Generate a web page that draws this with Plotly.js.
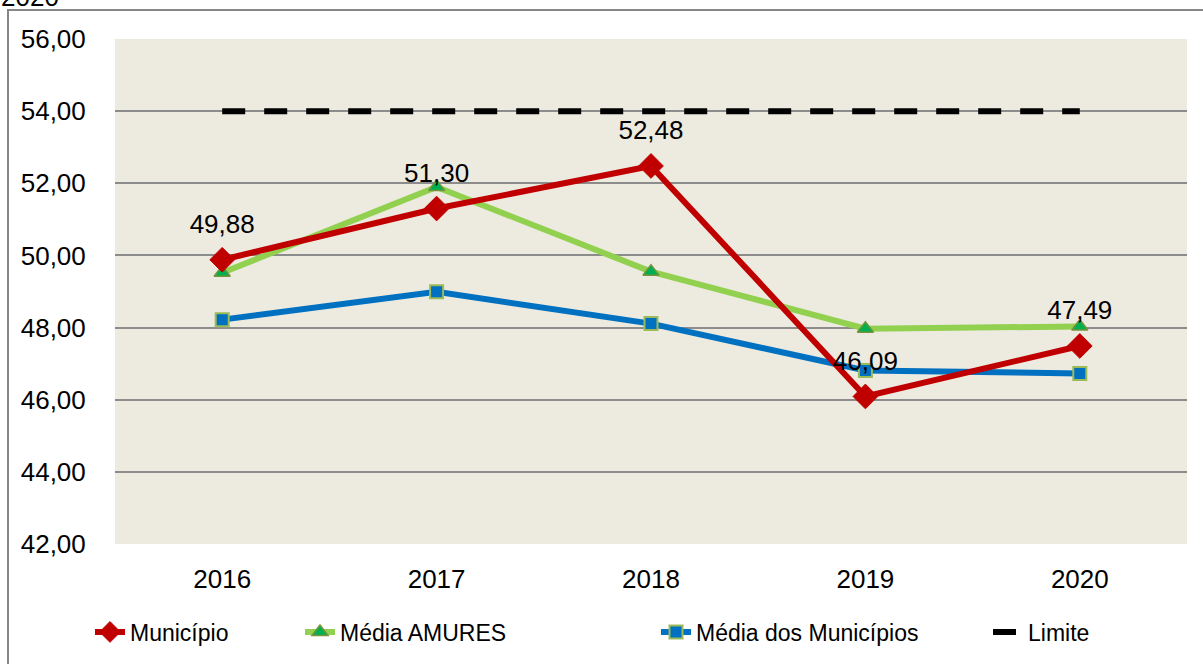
<!DOCTYPE html>
<html>
<head>
<meta charset="utf-8">
<script src="https://cdn.plot.ly/plotly-3.0.1.min.js"></script>
<style>html,body{margin:0;padding:0;background:#fff;}#chart{width:1203px;height:664px;}</style>
</head>
<body>
<div id="chart"></div>
<script>
var years = ['2016', '2017', '2018', '2019', '2020'];
var municipio = [49.88, 51.30, 52.48, 46.09, 47.49];
var mediaAmures = [49.52, 51.90, 49.55, 47.97, 48.03];
var mediaMunicipios = [48.22, 48.99, 48.11, 46.81, 46.73];
var limite = [54, 54, 54, 54, 54];
var yTicks = [42, 44, 46, 48, 50, 52, 54, 56];

var F = 'Liberation Sans, Arial, sans-serif';

var traces = [
  {
    x: years, y: limite, name: 'Limite', type: 'scatter', mode: 'lines',
    line: {color: '#000000', width: 6, dash: '23px,19px'},
    legend: 'legend4'
  },
  {
    x: years, y: mediaMunicipios, name: 'Média dos Municípios', type: 'scatter', mode: 'lines+markers',
    line: {color: '#0070C0', width: 6},
    marker: {symbol: 'square', size: 13, color: '#0070C0', line: {color: '#9BBB59', width: 2}},
    legend: 'legend3', cliponaxis: false
  },
  {
    x: years, y: mediaAmures, name: 'Média AMURES', type: 'scatter', mode: 'lines+markers',
    line: {color: '#92D050', width: 6},
    marker: {symbol: 'triangle-up', size: 14, color: '#00B050', line: {color: '#77933C', width: 1.5}},
    legend: 'legend2', cliponaxis: false
  },
  {
    x: years, y: municipio, name: 'Município', type: 'scatter', mode: 'lines+markers',
    line: {color: '#C00000', width: 6},
    marker: {symbol: 'diamond', size: 19, color: '#C00000', line: {color: '#C00000', width: 1}},
    legend: 'legend', cliponaxis: false
  },
  {
    // data labels for Município
    x: years, y: municipio, type: 'scatter', mode: 'markers+text', showlegend: false,
    marker: {size: 31, color: 'rgba(0,0,0,0)'},
    texttemplate: '%{y:.2f}', textposition: 'top center',
    textfont: {family: F, size: 26, color: '#000'},
    cliponaxis: false, hoverinfo: 'skip'
  }
];

function px2x(p) { return (p - 115) / 1072; }
function py2y(p) { return (545 - p) / 506; }

function leg(xpx) {
  return {
    x: px2x(xpx), y: py2y(632), xanchor: 'left', yanchor: 'middle',
    orientation: 'h', bgcolor: 'rgba(0,0,0,0)', borderwidth: 0,
    font: {family: F, size: 23, color: '#000'}, itemwidth: 30
  };
}

var layout = {
  width: 1203, height: 664,
  margin: {l: 115, r: 16, t: 39, b: 119},
  paper_bgcolor: '#ffffff',
  plot_bgcolor: '#EDEAE0',
  separators: ',.',
  font: {family: F, size: 26, color: '#000'},
  showlegend: true,
  legend: leg(90),
  legend2: leg(300),
  legend3: leg(656),
  legend4: leg(988),
  xaxis: {
    type: 'category', range: [-0.5, 4.5], showgrid: false, zeroline: false, showline: false,
    ticks: 'outside', ticklen: 12, tickcolor: 'rgba(0,0,0,0)',
    tickfont: {family: F, size: 26, color: '#000'}
  },
  yaxis: {
    range: [42, 56], tickvals: yTicks, tickformat: '.2f',
    showgrid: true, gridcolor: '#8C8C8C', gridwidth: 2,
    zeroline: false, showline: false,
    ticks: 'outside', ticklen: 23, tickcolor: 'rgba(0,0,0,0)',
    tickfont: {family: F, size: 26, color: '#000'}
  },
  shapes: [
    {type: 'rect', xref: 'paper', yref: 'paper', x0: px2x(8), x1: px2x(1215), y0: py2y(700), y1: py2y(10),
     line: {color: '#868686', width: 2}, fillcolor: 'rgba(0,0,0,0)', layer: 'below'}
  ],
  annotations: [
    {xref: 'paper', yref: 'paper', x: px2x(-1), y: py2y(14), xanchor: 'left', yanchor: 'bottom',
     text: '2020', showarrow: false, font: {family: F, size: 26, color: '#000'}}
  ]
};

Plotly.newPlot('chart', traces, layout, {displayModeBar: false, staticPlot: true});
</script>
</body>
</html>
